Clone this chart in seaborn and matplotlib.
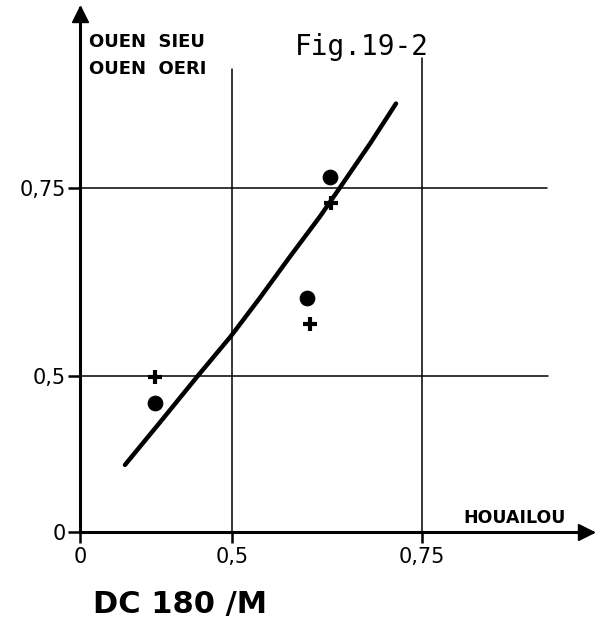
import numpy as np
import pandas as pd
import matplotlib
matplotlib.use('Agg')
import matplotlib.pyplot as plt
from matplotlib import font_manager
import seaborn as sns

# values (axis units of the original chart)
dot_x = [0.247, 0.599, 0.629]
dot_y = [0.413, 0.604, 0.765]
plus_x = [0.247, 0.603, 0.630]
plus_y = [0.497, 0.569, 0.730]
curve_x = [0.148, 0.263, 0.385, 0.497, 0.537, 0.576, 0.616, 0.642, 0.682, 0.716]
curve_y = [0.215, 0.351, 0.497, 0.553, 0.604, 0.658, 0.712, 0.750, 0.809, 0.862]
x_ticks = [0, 0.5, 0.75]
x_ticklabels = ['0', '0,5', '0,75']
y_ticks = [0, 0.5, 0.75]
y_ticklabels = ['0', '0,5', '0,75']

# the original axes are not linear: piecewise scale between the labelled ticks
x_vals = [-1, 0, 0.5, 0.75, 2]
x_pos = [-304, 0, 152, 342, 1292]
y_vals = [-1, 0, 0.5, 0.75, 2]
y_pos = [-312, 0, 156, 344, 1284]

def x_fwd(v):
    return np.interp(v, x_vals, x_pos)

def x_inv(p):
    return np.interp(p, x_pos, x_vals)

def y_fwd(v):
    return np.interp(v, y_vals, y_pos)

def y_inv(p):
    return np.interp(p, y_pos, y_vals)

names = {f.name for f in font_manager.fontManager.ttflist}
narrow = 'Liberation Sans Narrow' if 'Liberation Sans Narrow' in names else 'DejaVu Sans'

sns.set_style('white')
plt.rcParams['font.family'] = ['DejaVu Sans']
plt.rcParams['text.color'] = 'black'
plt.rcParams['xtick.color'] = 'black'
plt.rcParams['ytick.color'] = 'black'

W, H = 599, 619
fig = plt.figure(figsize=(W / 100, H / 100), dpi=100)
ax = fig.add_axes([80 / W, (H - 532) / H, 512 / W, 524 / H])
ax.set_xscale('function', functions=(x_fwd, x_inv))
ax.set_yscale('function', functions=(y_fwd, y_inv))
ax.set_xlim(0, 0.974)
ax.set_ylim(0, 0.989)

# grid lines of the original
ax.axvline(0.5, ymax=0.884, color='black', lw=1.1, zorder=1)
ax.axvline(0.75, ymax=0.905, color='black', lw=1.1, zorder=1)
ax.axhline(0.5, xmax=0.914, color='black', lw=1.1, zorder=1)
ax.axhline(0.75, xmax=0.912, color='black', lw=1.1, zorder=1)

curve = pd.DataFrame({'x': curve_x, 'y': curve_y})
sns.lineplot(data=curve, x='x', y='y', sort=False, estimator=None,
             color='black', lw=3.2, ax=ax, zorder=3)
sns.scatterplot(x=dot_x, y=dot_y, marker='o', s=110, color='black',
                edgecolor='black', ax=ax, zorder=4)
ax.plot(plus_x, plus_y, ls='none', marker='+', ms=10, mew=3,
        color='black', zorder=4)

for side in ['top', 'right']:
    ax.spines[side].set_visible(False)
for side in ['left', 'bottom']:
    ax.spines[side].set_linewidth(2.2)
    ax.spines[side].set_color('black')

# arrow heads
ax.plot([1 - 6 / 512], [0], marker='>', ms=11, color='black',
        transform=ax.transAxes, clip_on=False)
ax.plot([0], [1 - 6 / 524], marker='^', ms=11, color='black',
        transform=ax.transAxes, clip_on=False)

ax.set_xticks(x_ticks)
ax.set_xticklabels(x_ticklabels)
ax.set_yticks(y_ticks)
ax.set_yticklabels(y_ticklabels)
ax.minorticks_off()
ax.tick_params(axis='x', direction='out', length=8, width=1.8, pad=3,
               labelsize=15, bottom=True, colors='black')
ax.tick_params(axis='y', direction='out', length=9, width=1.8, pad=1,
               labelsize=15, left=True, colors='black')
ax.set_xlabel('')
ax.set_ylabel('')
ax.grid(False)

fig.text(89 / W, 1 - 47 / H, 'OUEN  SIEU', family=[narrow, 'DejaVu Sans'],
         fontweight='bold', fontsize=13, ha='left', va='baseline', color='black')
fig.text(89 / W, 1 - 74 / H, 'OUEN  OERI', family=[narrow, 'DejaVu Sans'],
         fontweight='bold', fontsize=13, ha='left', va='baseline', color='black')
fig.text(463 / W, 1 - 523 / H, 'HOUAILOU', family=[narrow, 'DejaVu Sans'],
         fontweight='bold', fontsize=12.5, ha='left', va='baseline', color='black')
fig.text(295 / W, 1 - 55 / H, 'Fig.19-2', family=['DejaVu Sans Mono'],
         fontsize=20, ha='left', va='baseline', color='black')
fig.text(93 / W, 1 - 613 / H, 'DC 180 /M', family=[narrow, 'DejaVu Sans'],
         fontweight='bold', fontsize=22, ha='left', va='baseline', color='black')

fig.savefig('out.png', dpi=100)
